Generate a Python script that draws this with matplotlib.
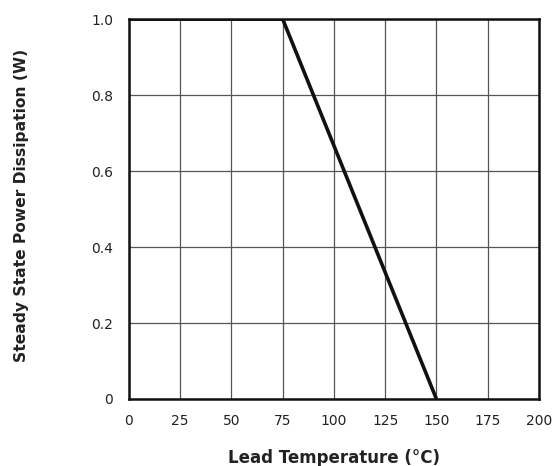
import matplotlib
matplotlib.use("Agg")
from matplotlib import pyplot as plt

# derating curve
temp = [0, 75, 150]
power = [1.0, 1.0, 0.0]

xticks = [0, 25, 50, 75, 100, 125, 150, 175, 200]
yticks = [0, 0.2, 0.4, 0.6, 0.8, 1.0]
ytick_labels = ["0", "0.2", "0.4", "0.6", "0.8", "1.0"]

plt.rcParams['font.family'] = ['DejaVu Sans']

fig = plt.figure(figsize=(5.55, 4.66), dpi=100)
ax = fig.add_axes([0.2324, 0.1438, 0.7386, 0.8152])

ax.plot(temp, power, color='#111111', linewidth=2.6, solid_capstyle='butt', zorder=3)

ax.set_xlim(0, 200)
ax.set_ylim(0, 1.0)
ax.set_xticks(xticks)
ax.set_xticklabels([str(t) for t in xticks])
ax.set_yticks(yticks)
ax.set_yticklabels(ytick_labels)
ax.tick_params(length=0, labelsize=10, colors='#222222', pad=11)
ax.tick_params(axis='y', pad=11.5)

ax.grid(True, color='#555555', linewidth=0.9)
ax.set_axisbelow(True)
for s in ax.spines.values():
    s.set_linewidth(1.8)
    s.set_color('#111111')

ax.set_xlabel("Lead Temperature (°C)", fontsize=12, fontweight='bold', color='#222222', va='center')
ax.xaxis.set_label_coords(0.5, -0.155)
ax.set_ylabel("Steady State Power Dissipation (W)", fontsize=11.2, fontweight='bold', color='#222222', va='center')
ax.yaxis.set_label_coords(-0.261, 0.51)

fig.savefig("out.png", dpi=100)
